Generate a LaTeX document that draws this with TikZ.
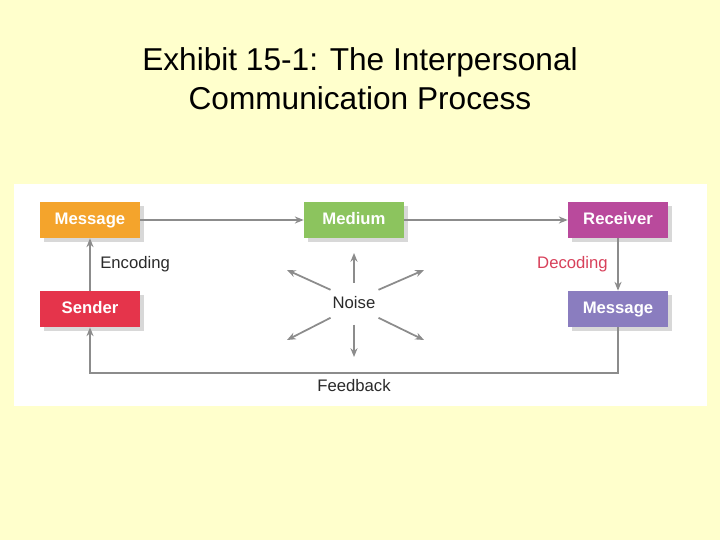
\documentclass[tikz,border=0pt]{standalone}
\usepackage{fontspec}
\setmainfont{Liberation Sans}
\usetikzlibrary{positioning,arrows.meta,shadows}
\definecolor{bgyellow}{HTML}{FFFFCC}
\definecolor{cmorange}{HTML}{F4A42C}
\definecolor{cmgreen}{HTML}{8CC45E}
\definecolor{cmmagenta}{HTML}{B94A9C}
\definecolor{cmred}{HTML}{E5344B}
\definecolor{cmpurple}{HTML}{8A7DBF}
\definecolor{cmgray}{HTML}{8C8C8C}
\definecolor{cmtext}{HTML}{2A2A2A}
\definecolor{cmdecode}{HTML}{D8405A}
\begin{document}
\begin{tikzpicture}[x=0.02cm,y=-0.02cm,
  stagebox/.style={minimum width=2cm,minimum height=0.72cm,inner sep=0pt,text height=7pt,text depth=2pt,text=white,font=\fontsize{9.5}{11}\selectfont\bfseries,drop shadow={shadow xshift=2pt,shadow yshift=-2pt,opacity=0.3}},
  link/.style={-{Stealth[length=5pt,width=4pt]},cmgray,line width=1pt},
  lbl/.style={font=\fontsize{9.5}{11}\selectfont,text=cmtext}]
  \fill[bgyellow] (0,0) rectangle (720,540);
  \fill[white] (14,184) rectangle (707,406);
  \node[font=\fontsize{18}{22}\selectfont,align=center] (title) at (360,79) {Exhibit 15-1: The Interpersonal\\Communication Process};
  % boxes
  \node[stagebox,fill=cmorange] (msg1) at (90,220) {Message};
  \node[stagebox,fill=cmgreen] (medium) at (354,220) {Medium};
  \node[stagebox,fill=cmmagenta] (receiver) at (618,220) {Receiver};
  \node[stagebox,fill=cmred] (sender) at (90,309) {Sender};
  \node[stagebox,fill=cmpurple] (msg2) at (618,309) {Message};
  \node[lbl] (noise) at (354,303) {Noise};
  \coordinate (fbr) at (618,373);
  \coordinate (fbl) at (90,373);
  % connectors
  \draw[link] (sender) -- (msg1) node[midway,right,lbl,xshift=2pt] (enc) {Encoding};
  \draw[link] (msg1) -- (medium);
  \draw[link] (medium) -- (receiver);
  \draw[link] (receiver) -- (msg2) node[midway,left,lbl,text=cmdecode,xshift=-2pt] (dec) {Decoding};
  \draw[link] (msg2) -- (fbr) -- (fbl) node[midway,below,lbl] (fb) {Feedback} -- (sender);
  % noise arrows
  \foreach \tx/\ty in {354/253,354/357,287/270,424/270,287/340,424/340}
    \draw[link] (noise) ++(0,0) coordinate (n0) (n0) ++({(\tx-354)*0.35},{(\ty-303)*0.4}) -- (\tx,\ty);
\end{tikzpicture}
\end{document}
